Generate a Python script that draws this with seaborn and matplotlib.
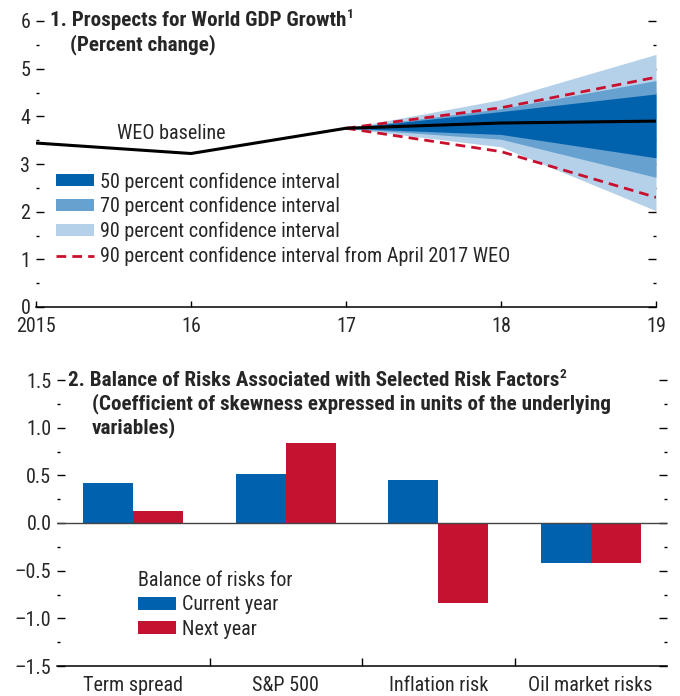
import numpy as np
import pandas as pd
import matplotlib
matplotlib.use("Agg")
import matplotlib.pyplot as plt
import seaborn as sns
from matplotlib import font_manager as fm
from matplotlib.patches import Patch
from matplotlib.lines import Line2D
from matplotlib.ticker import MultipleLocator, FixedLocator

# ---------------- data ----------------
years = [2015, 2016, 2017, 2018, 2019]
year_labels = ["2015", "16", "17", "18", "19"]
baseline = [3.44, 3.22, 3.75, 3.86, 3.90]

fan_years = [2017, 2018, 2019]
ci50_low = [3.75, 3.62, 3.13]
ci50_high = [3.75, 4.10, 4.47]
ci70_low = [3.75, 3.52, 2.72]
ci70_high = [3.75, 4.16, 4.75]
ci90_low = [3.75, 3.36, 2.02]
ci90_high = [3.75, 4.35, 5.30]
apr2017_low = [3.75, 3.26, 2.30]
apr2017_high = [3.75, 4.18, 4.82]

factors = ["Term spread", "S&P 500", "Inflation risk", "Oil market risks"]
current_year = [0.42, 0.51, 0.45, -0.42]
next_year = [0.13, 0.84, -0.84, -0.42]
period_labels = ["Current year", "Next year"]

ytick_top = [0, 1, 2, 3, 4, 5, 6]
ytick_bottom = [-1.5, -1.0, -0.5, 0.0, 0.5, 1.0, 1.5]
ytick_bottom_labels = ["\u20131.5", "\u20131.0", "\u20130.5", "0.0", "0.5", "1.0", "1.5"]

# ---------------- style ----------------
sns.set_theme(style="white")


def pick(fams):
    for f in fams:
        try:
            fm.findfont(fm.FontProperties(family=f), fallback_to_default=False)
            return f
        except Exception:
            pass
    return "DejaVu Sans"


FONT = pick(["Liberation Sans Narrow", "Roboto Condensed", "Liberation Sans"])
plt.rcParams["font.family"] = [FONT, "DejaVu Sans"]
FS = 14.5
TFS = 15.2

DARK = "#0062AD"
MID = "#66A1D0"
LIGHT = "#B5D1E9"
RED = "#C8102E"
BAR_BLUE = "#0061AE"
BAR_RED = "#C41230"

W, H = 680, 696
fig = plt.figure(figsize=(W / 100, H / 100), dpi=100)


def fx(px):
    return px / W


def fy(py):
    return 1 - py / H


# ---------------- panel 1 ----------------
ax1 = fig.add_axes([fx(36), fy(307), fx(656) - fx(36), fy(21) - fy(307)])
ax1.fill_between(fan_years, ci90_low, ci90_high, color=LIGHT, lw=0, zorder=1)
ax1.fill_between(fan_years, ci70_low, ci70_high, color=MID, lw=0, zorder=2)
ax1.fill_between(fan_years, ci50_low, ci50_high, color=DARK, lw=0, zorder=3)
sns.lineplot(x=fan_years, y=apr2017_high, color=RED, lw=2.0, ax=ax1,
             linestyle=(0, (3.5, 2.2)), zorder=4)
sns.lineplot(x=fan_years, y=apr2017_low, color=RED, lw=2.0, ax=ax1,
             linestyle=(0, (3.5, 2.2)), zorder=4)
sns.lineplot(x=years, y=baseline, color="black", lw=2.2, ax=ax1, zorder=5)

ax1.text(2015.87, 3.65, "WEO baseline", fontsize=FS, ha="center", va="center")

ax1.set_xlim(2015, 2019)
ax1.set_ylim(0, 6)
ax1.set_xticks(years)
ax1.set_xticklabels(year_labels, fontsize=FS)
ax1.set_yticks(ytick_top)
ax1.set_yticklabels([str(v) for v in ytick_top], fontsize=FS)
ax1.yaxis.set_minor_locator(MultipleLocator(0.5))
ax1.tick_params(axis="y", which="major", direction="in", length=6, width=1.0,
                left=True, right=True, labelleft=True, labelright=False,
                color="black", pad=4)
ax1.tick_params(axis="y", which="minor", direction="in", length=2.5, width=1.0,
                left=True, right=True, color="black")
ax1.tick_params(axis="x", which="major", direction="in", length=4, width=1.0,
                bottom=True, color="black", pad=7)
for s in ["left", "right", "top"]:
    ax1.spines[s].set_visible(False)
ax1.spines["bottom"].set_color("black")
ax1.spines["bottom"].set_linewidth(1.1)
ax1.set_xlabel("")
ax1.set_ylabel("")

t1 = fig.text(fx(50), fy(20), "1. Prospects for World GDP Growth", fontsize=TFS,
              fontweight="bold", va="center", ha="left")
fig.text(fx(70), fy(45), "(Percent change)", fontsize=TFS, fontweight="bold",
         va="center", ha="left")
ax1.annotate("1", xy=(1, 1), xycoords=t1, xytext=(0.3, 2), textcoords="offset points",
             fontsize=9.5, fontweight="bold", ha="left", va="top")

handles1 = [
    Patch(facecolor=DARK, edgecolor="none"),
    Patch(facecolor=MID, edgecolor="none"),
    Patch(facecolor=LIGHT, edgecolor="none"),
    Line2D([0], [0], color=RED, lw=2.0, linestyle=(0, (3.5, 2.2))),
]
labels1 = ["50 percent confidence interval", "70 percent confidence interval",
           "90 percent confidence interval",
           "90 percent confidence interval from April 2017 WEO"]
leg1 = fig.legend(handles1, labels1, loc="upper left",
                  bbox_to_anchor=(fx(56), fy(172)), bbox_transform=fig.transFigure,
                  frameon=False, fontsize=FS, borderpad=0, borderaxespad=0,
                  handlelength=1.9, handleheight=0.55, handletextpad=0.26,
                  labelspacing=0.27)

# ---------------- panel 2 ----------------
ax2 = fig.add_axes([fx(57), fy(666), fx(667) - fx(57), fy(380) - fy(666)])
df = pd.DataFrame({
    "factor": factors * 2,
    "value": current_year + next_year,
    "period": [period_labels[0]] * len(factors) + [period_labels[1]] * len(factors),
})
sns.barplot(data=df, x="factor", y="value", hue="period", order=factors,
            hue_order=period_labels, palette=[BAR_BLUE, BAR_RED], saturation=1,
            width=0.655, gap=0, ax=ax2, legend=False, errorbar=None, zorder=2,
            linewidth=0, edgecolor="none")
ax2.axhline(0, color="#444444", lw=1.0, zorder=3)

ax2.set_xlim(-0.5, 3.5)
ax2.set_ylim(-1.5, 1.5)
ax2.set_yticks(ytick_bottom)
ax2.set_yticklabels(ytick_bottom_labels, fontsize=FS)
ax2.yaxis.set_minor_locator(MultipleLocator(0.25))
ax2.tick_params(axis="y", which="major", direction="in", length=6, width=1.0,
                left=True, right=True, labelleft=True, labelright=False,
                color="black", pad=4)
ax2.tick_params(axis="y", which="minor", direction="in", length=2.5, width=1.0,
                left=True, right=True, color="black")
ax2.set_xticks(range(len(factors)))
ax2.set_xticklabels(factors, fontsize=FS)
ax2.xaxis.set_minor_locator(FixedLocator([0.5, 1.5, 2.5]))
ax2.tick_params(axis="x", which="major", length=0, pad=7)
ax2.tick_params(axis="x", which="minor", direction="in", length=6, width=1.0,
                bottom=True, color="black")
for s in ["left", "right", "top"]:
    ax2.spines[s].set_visible(False)
ax2.spines["bottom"].set_color("black")
ax2.spines["bottom"].set_linewidth(1.1)
ax2.set_xlabel("")
ax2.set_ylabel("")

t2 = fig.text(fx(68), fy(380), "2. Balance of Risks Associated with Selected Risk Factors",
              fontsize=TFS, fontweight="bold", va="center", ha="left")
ax2.annotate("2", xy=(1, 1), xycoords=t2, xytext=(0.3, 2), textcoords="offset points",
             fontsize=9.5, fontweight="bold", ha="left", va="top")
fig.text(fx(92), fy(404), "(Coefficient of skewness expressed in units of the underlying",
         fontsize=TFS, fontweight="bold", va="center", ha="left")
fig.text(fx(92), fy(428), "variables)", fontsize=TFS, fontweight="bold",
         va="center", ha="left")

handles2 = [Patch(facecolor=BAR_BLUE, edgecolor="none"),
            Patch(facecolor=BAR_RED, edgecolor="none")]
leg2 = fig.legend(handles2, period_labels, title="Balance of risks for",
                  loc="upper left", bbox_to_anchor=(fx(138), fy(571)),
                  bbox_transform=fig.transFigure, frameon=False, fontsize=FS,
                  title_fontsize=FS, borderpad=0, borderaxespad=0,
                  handlelength=1.9, handleheight=0.6, handletextpad=0.26,
                  labelspacing=0.27, alignment="left")

fig.savefig("out.png", dpi=100)
